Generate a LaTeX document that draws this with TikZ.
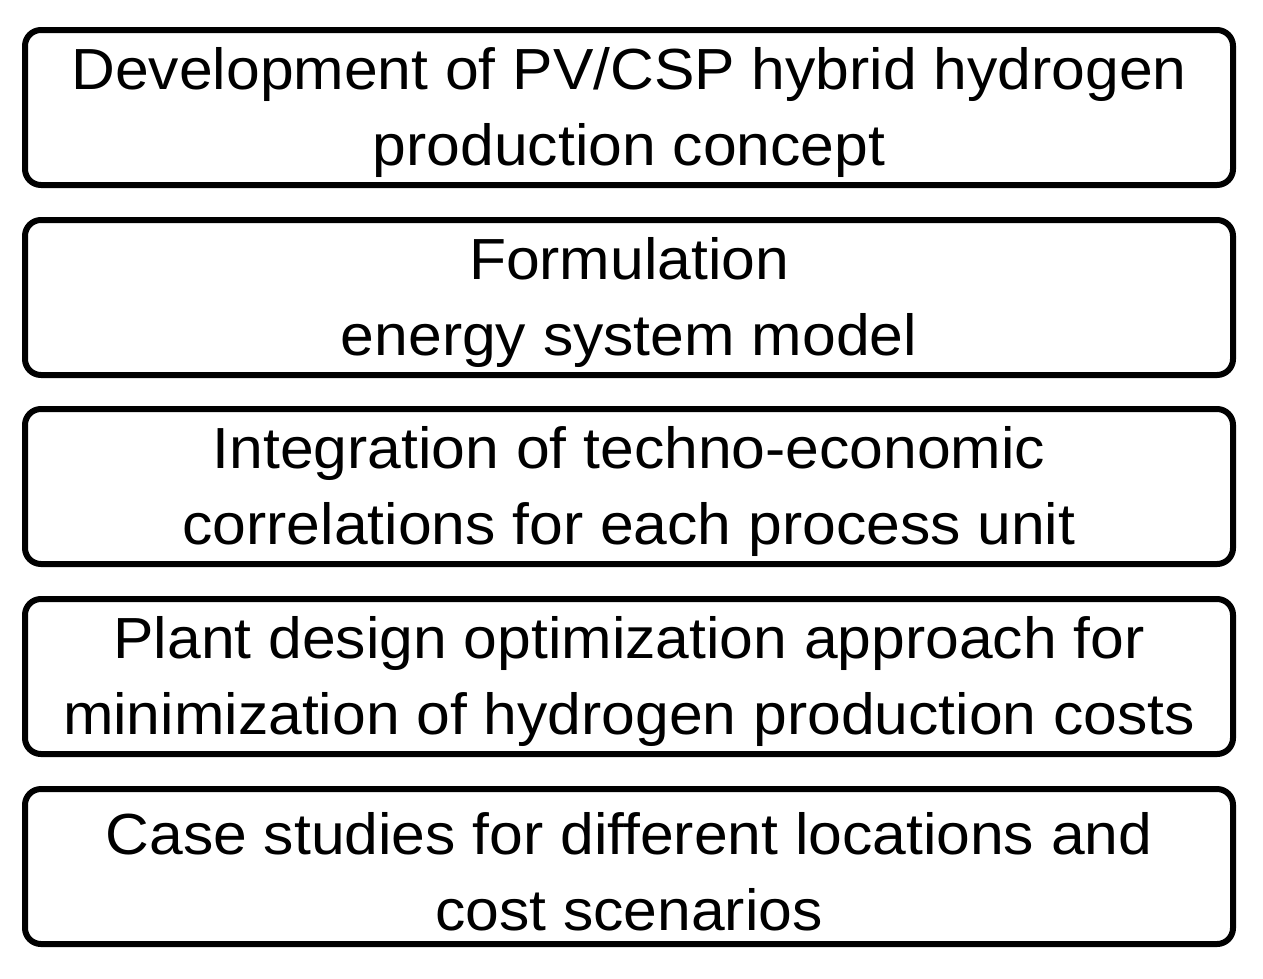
\documentclass[tikz,border=0pt]{standalone}
\usepackage{fontspec}
\setmainfont[FakeStretch=1.045]{Liberation Sans}
\newcommand{\tstrut}{\rule{0pt}{52pt}}
\begin{document}
\begin{tikzpicture}[x=1pt,y=-1pt,
  stepbox/.style={draw=black, line width=6pt, rounded corners=16pt, minimum width=1208pt, minimum height=155pt, align=center, inner sep=0pt,
    font=\fontsize{58}{76}\selectfont}]
\useasboundingbox (0,0) rectangle (1263,978);
\node[stepbox] (b1) at (629,107.5) {\tstrut Development of PV/CSP hybrid hydrogen\\production concept};
\node[stepbox] (b2) at (629,297.5) {\tstrut Formulation\\energy system model};
\node[stepbox] (b3) at (629,486.5) {\tstrut Integration of techno-economic\\correlations for each process unit};
\node[stepbox] (b4) at (629,676.5) {\tstrut Plant design optimization approach for\\minimization of hydrogen production costs};
\node[stepbox] (b5) at (629,866.5) {\tstrut Case studies for different locations and\\cost scenarios};
\end{tikzpicture}
\end{document}
